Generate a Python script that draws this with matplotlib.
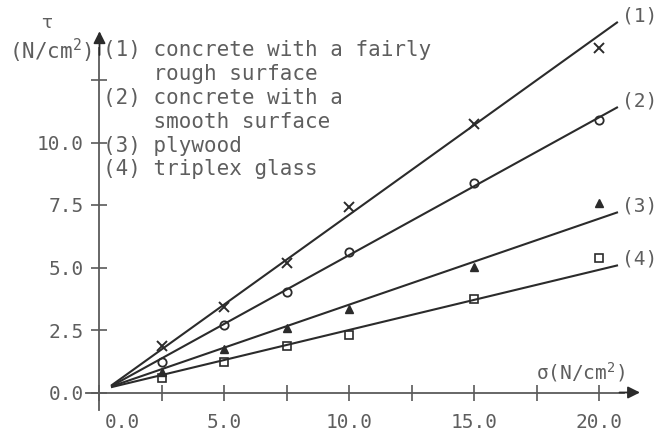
import matplotlib
matplotlib.use('Agg')
import matplotlib.pyplot as plt
from matplotlib.transforms import ScaledTranslation

plt.rcParams['font.family'] = ['DejaVu Sans Mono', 'DejaVu Sans']
plt.rcParams['mathtext.fontset'] = 'custom'
plt.rcParams['mathtext.rm'] = 'DejaVu Sans Mono'
plt.rcParams['mathtext.it'] = 'DejaVu Sans Mono'

# pontos medidos (sigma em N/cm2)
sigma = [2.5, 5.0, 7.5, 10.0, 15.0, 20.0]
tau1 = [1.88, 3.44, 5.20, 7.44, 10.76, 13.80]
tau2 = [1.24, 2.72, 4.04, 5.64, 8.40, 10.92]
tau3 = [0.84, 1.76, 2.60, 3.36, 5.04, 7.60]
tau4 = [0.60, 1.24, 1.88, 2.32, 3.76, 5.40]

# retas ajustadas (inicio e fim)
fit_x = [0.5, 20.7]
fit1 = [0.30, 14.80]
fit2 = [0.27, 11.40]
fit3 = [0.25, 7.20]
fit4 = [0.22, 5.08]

series_tags = ['(1)', '(2)', '(3)', '(4)']
legend_lines = ['(1) concrete with a fairly',
                '    rough surface',
                '(2) concrete with a',
                '    smooth surface',
                '(3) plywood',
                '(4) triplex glass']

y_ticks = [0.0, 2.5, 5.0, 7.5, 10.0, 12.5]
y_labels = ['0.0', '2.5', '5.0', '7.5', '10.0', '']
x_ticks = [0.0, 5.0, 10.0, 15.0, 20.0]
x_labels = ['0.0', '5.0', '10.0', '15.0', '20.0']
x_minor = [2.5, 7.5, 12.5, 17.5]

line_c = '#2b2b2b'
text_c = '#5e5e5e'
axis_c = '#5a5a5a'

fig = plt.figure(figsize=(6.6, 4.33), dpi=100)
ax = fig.add_axes([0, 0, 1, 1])
ax.set_xlim(-3.98, 22.42)
ax.set_ylim(-1.62, 15.7)

markers = [dict(marker='x', ms=6.5, mfc='none', mew=1.4),
           dict(marker='o', ms=6, mfc='none', mew=1.3),
           dict(marker='^', ms=6, mfc=line_c, mew=1.0),
           dict(marker='s', ms=5.5, mfc='none', mew=1.2)]
taus = [tau1, tau2, tau3, tau4]
fits = [fit1, fit2, fit3, fit4]

for tau, fit, mk, tag in zip(taus, fits, markers, series_tags):
    ax.plot(fit_x, fit, color=line_c, lw=1.5)
    ax.plot(sigma, tau, ls='none', color=line_c, mec=line_c, **mk)
    ax.text(fit_x[1] + 0.2, fit[1] + 0.25, tag, color=text_c,
            fontsize=14, ha='left', va='center')

# eixos com setas
for s in ['top', 'right']:
    ax.spines[s].set_visible(False)
ax.spines['left'].set_position(('data', 0))
ax.spines['bottom'].set_position(('data', 0))
ax.spines['left'].set_bounds(-0.7, 13.8)
ax.spines['bottom'].set_bounds(-0.55, 21.0)
for s in ['left', 'bottom']:
    ax.spines[s].set_color(axis_c)
    ax.spines[s].set_linewidth(1.3)
ax.annotate('', xy=(0, 14.45), xytext=(0, 13.5),
            arrowprops=dict(arrowstyle='-|>', color=line_c, lw=1.3,
                            mutation_scale=18, shrinkA=0, shrinkB=0))
ax.annotate('', xy=(21.62, 0), xytext=(20.8, 0),
            arrowprops=dict(arrowstyle='-|>', color=line_c, lw=1.3,
                            mutation_scale=18, shrinkA=0, shrinkB=0))

ax.set_yticks(y_ticks)
ax.set_yticklabels(y_labels)
ax.set_xticks(x_ticks)
ax.set_xticklabels(x_labels)
ax.set_xticks(x_minor, minor=True)
ax.tick_params(axis='y', direction='inout', length=11, width=1.2,
               colors=axis_c, labelcolor=text_c, labelsize=14, pad=6)
ax.tick_params(axis='x', which='both', direction='inout', length=11,
               width=1.2, colors=axis_c, labelcolor=text_c, labelsize=14, pad=9)

# o rotulo 0.0 do eixo x fica deslocado para a direita
lab0 = ax.get_xticklabels()[0]
lab0.set_transform(lab0.get_transform() +
                   ScaledTranslation(0.23, 0, fig.dpi_scale_trans))

# legenda escrita a mao
for i, txt in enumerate(legend_lines):
    ax.text(0.14, 13.7 - i * 0.955, txt, color=text_c, fontsize=15,
            ha='left', va='center')

ax.text(-0.3, 13.68, '(N/cm$^2$)', color=text_c, fontsize=15,
        ha='right', va='center')
ax.text(-2.1, 14.78, 'τ', color=text_c, fontsize=13,
        ha='center', va='center', family='DejaVu Sans')
ax.text(21.02, 0.8, 'σ(N/cm$^2$)', color=text_c, fontsize=14,
        ha='right', va='center')

fig.savefig('out.png', dpi=100)
